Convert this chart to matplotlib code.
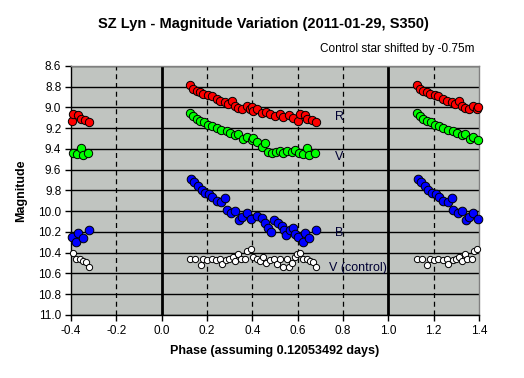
import matplotlib
matplotlib.use("Agg")
import matplotlib.pyplot as plt
import numpy as np

plt.rcParams['font.family'] = ['Liberation Sans', 'DejaVu Sans']

# Phase-folded data (one cycle, 0.12..0.68); drawn also shifted by -1 and +1
r_phase = [0.125, 0.139, 0.154, 0.169, 0.184, 0.206, 0.220, 0.243, 0.257, 0.279, 0.294, 0.311,
           0.323, 0.338, 0.356, 0.375, 0.390, 0.397, 0.404, 0.419, 0.441, 0.460, 0.478, 0.500,
           0.522, 0.536, 0.563, 0.580, 0.603, 0.610, 0.632, 0.642, 0.662, 0.681]
r_mag = [8.786, 8.820, 8.840, 8.850, 8.870, 8.880, 8.890, 8.915, 8.940, 8.947, 8.966, 8.940,
         8.990, 9.005, 9.010, 8.990, 9.010, 9.000, 9.037, 9.017, 9.056, 9.040, 9.063, 9.080,
         9.063, 9.095, 9.072, 9.104, 9.127, 9.063, 9.072, 9.114, 9.120, 9.137]

v_phase = [0.125, 0.139, 0.154, 0.169, 0.188, 0.206, 0.223, 0.243, 0.262, 0.287, 0.301, 0.323,
           0.338, 0.360, 0.375, 0.397, 0.401, 0.422, 0.441, 0.456, 0.470, 0.485, 0.504, 0.522,
           0.536, 0.554, 0.573, 0.588, 0.607, 0.625, 0.642, 0.651, 0.676]
v_mag = [9.053, 9.085, 9.108, 9.127, 9.140, 9.172, 9.180, 9.198, 9.214, 9.223, 9.246, 9.268,
         9.255, 9.300, 9.287, 9.310, 9.297, 9.330, 9.384, 9.345, 9.426, 9.442, 9.426, 9.416,
         9.435, 9.416, 9.426, 9.410, 9.442, 9.448, 9.393, 9.458, 9.435]

b_phase = [0.129, 0.144, 0.161, 0.176, 0.191, 0.209, 0.223, 0.243, 0.262, 0.279, 0.287, 0.306,
           0.323, 0.341, 0.356, 0.375, 0.394, 0.419, 0.441, 0.456, 0.470, 0.481, 0.495, 0.514,
           0.529, 0.539, 0.548, 0.566, 0.578, 0.588, 0.603, 0.622, 0.632, 0.651, 0.681]
b_mag = [9.692, 9.715, 9.757, 9.800, 9.827, 9.834, 9.860, 9.898, 9.908, 9.876, 9.988, 10.020,
         9.995, 10.084, 10.052, 10.020, 10.078, 10.043, 10.062, 10.116, 10.158, 10.203, 10.084, 10.116,
         10.139, 10.181, 10.229, 10.181, 10.165, 10.222, 10.245, 10.293, 10.213, 10.260, 10.181]

c_phase = [0.125, 0.147, 0.172, 0.184, 0.201, 0.220, 0.240, 0.257, 0.265, 0.284, 0.298, 0.313,
           0.323, 0.338, 0.348, 0.367, 0.378, 0.393, 0.404, 0.419, 0.434, 0.448, 0.460, 0.478,
           0.495, 0.507, 0.522, 0.536, 0.551, 0.563, 0.573, 0.588, 0.595, 0.610, 0.622, 0.640,
           0.654, 0.666, 0.681]
c_mag = [10.463, 10.463, 10.520, 10.456, 10.470, 10.456, 10.470, 10.463, 10.510, 10.470, 10.456, 10.444,
         10.477, 10.412, 10.463, 10.463, 10.380, 10.367, 10.438, 10.463, 10.477, 10.444, 10.496, 10.470,
         10.463, 10.510, 10.456, 10.540, 10.456, 10.540, 10.500, 10.438, 10.412, 10.400, 10.463, 10.463,
         10.477, 10.486, 10.535]

yticks = [8.6, 8.8, 9.0, 9.2, 9.4, 9.6, 9.8, 10.0, 10.2, 10.4, 10.6, 10.8, 11.0]
xticks = [-0.4, -0.2, 0.0, 0.2, 0.4, 0.6, 0.8, 1.0, 1.2, 1.4]
series_labels = [("R", 9.09), ("V", 9.48), ("B", 10.21), ("V (control)", 10.55)]

fig = plt.figure(figsize=(5.24, 3.78), dpi=100)
ax = fig.add_axes([71/524, 1-315/378, 408/524, 249/378])
ax.set_facecolor('#c0c4c0')
ax.set_xlim(-0.4, 1.4)
ax.set_ylim(11.0, 8.6)

for y in yticks:
    ax.axhline(y, color='black', lw=1.0, zorder=1)
for x in xticks:
    if x in (0.0, 1.0):
        ax.axvline(x, color='black', lw=2.0, zorder=1)
    elif -0.4 < x < 1.4:
        ax.axvline(x, color='black', lw=0.9, ls=(0, (4, 3)), zorder=1)

def plot_series(ph, mg, fc, ms, ec='black'):
    ph = np.array(ph); mg = np.array(mg)
    for shift in (-1, 0, 1):
        p = ph + shift
        m = (p >= -0.4) & (p <= 1.4)
        ax.plot(p[m], mg[m], ls='none', marker='o', ms=ms, mfc=fc, mec=ec, mew=0.7, zorder=3,
                clip_on=False)

plot_series(r_phase, r_mag, '#ff0000', 6)
plot_series(v_phase, v_mag, '#00ff00', 6)
plot_series(b_phase, b_mag, '#0000ff', 6.2)
plot_series(c_phase, c_mag, '#ffffff', 4.5)

for name, y in series_labels:
    ax.text(0.74 if name.startswith('V (') else 0.765, y, name, fontsize=9, color='#000033',
            ha='left', va='center', zorder=4)

ax.set_xticks(xticks)
ax.set_xticklabels([f"{v:.1f}" for v in xticks], fontsize=8.5)
ax.set_yticks(yticks)
ax.set_yticklabels([f"{v:.1f}" for v in yticks], fontsize=8.5)
ax.tick_params(direction='out', length=4, width=1, color='black', pad=3)
for s in ('left', 'bottom'):
    ax.spines[s].set_color('black')
    ax.spines[s].set_linewidth(1)
for s in ('top', 'right'):
    ax.spines[s].set_color('#808080')
    ax.spines[s].set_linewidth(1)

ax.set_xlabel("Phase (assuming 0.12053492 days)", fontsize=9, fontweight='bold', labelpad=6)
ax.set_ylabel("Magnitude", fontsize=9, fontweight='bold', labelpad=8)
fig.text(263/524, 1-24/378, "SZ Lyn - Magnitude Variation (2011-01-29, S350)", fontsize=10.5,
         fontweight='bold', ha='center', va='center')
fig.text(475/524, 1-49/378, "Control star shifted by -0.75m", fontsize=8.5, ha='right', va='center')

fig.savefig("out.png", dpi=100)
